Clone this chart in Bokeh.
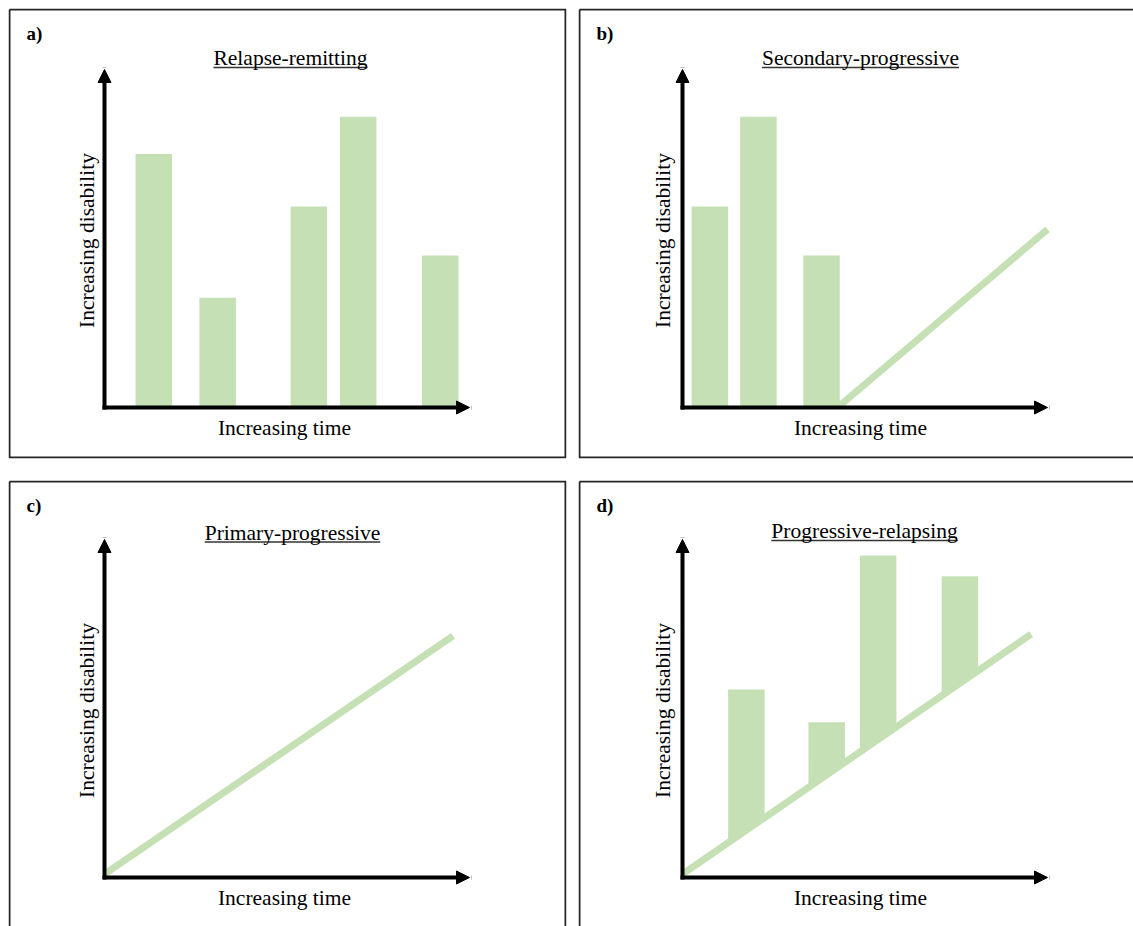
import math
from bokeh.plotting import figure
from bokeh.models import Range1d, Arrow, NormalHead, Label
from bokeh.layouts import column, row
from bokeh.embed import file_html
from bokeh.resources import INLINE

# ---------------- data ----------------
PANEL_LETTERS = ["a)", "b)", "c)", "d)"]
PANEL_TITLES = ["Relapse-remitting", "Secondary-progressive",
                "Primary-progressive", "Progressive-relapsing"]
X_LABEL = "Increasing time"
Y_LABEL = "Increasing disability"
AXIS_MAX = 10.0

# a) relapse-remitting: relapse bars
A_TIME = [1.35, 3.1, 5.6, 6.95, 9.2]
A_DISABILITY = [7.5, 3.25, 5.95, 8.6, 4.5]

# b) secondary-progressive: relapse bars then steady progression
B_TIME = [0.75, 2.08, 3.81]
B_DISABILITY = [5.95, 8.6, 4.5]
B_TREND_TIME = [4.3, 10.0]
B_TREND_DISABILITY = [0.05, 5.27]

# c) primary-progressive: steady progression
C_TREND_TIME = [0.0, 9.55]
C_TREND_DISABILITY = [0.1, 7.15]

# d) progressive-relapsing: progression with relapse bars on top
D_TIME = [1.75, 3.95, 5.36, 7.60]
D_DISABILITY = [5.56, 4.59, 9.53, 8.91]
D_TREND_TIME = [0.0, 9.55]
D_TREND_DISABILITY = [0.1, 7.2]

# ---------------- style ----------------
BAR_COLOR = "#c5e0b4"
BAR_WIDTH = 1.0
TREND_WIDTH = 7
PPX = 36.5   # pixels per time unit
PPY = 33.8   # pixels per disability unit
FONT = "Liberation Serif"
FS = 21.5
BORDER_COLOR = "#262626"

# Times / Liberation Serif advance widths (per 1000 em) for underline length
TW = {"R": 667, "e": 444, "l": 278, "a": 444, "p": 500, "s": 389, "-": 333,
      "r": 333, "m": 778, "i": 278, "t": 278, "n": 500, "g": 500, "S": 556,
      "c": 444, "o": 500, "d": 500, "y": 500, "P": 556, "v": 500, " ": 250}


def text_width_px(s, size):
    return sum(TW.get(ch, 500) for ch in s) / 1000.0 * size


LAYOUT = [
    dict(W=558, H=450, ox=96, oy=399, ml=8, mt=8, rg=12, bg=22, cut_r=False, cut_b=False,
         title_dx=186, title_fy=49.5, xlab_dx=180, ylab_dx=-18),
    dict(W=555, H=450, ox=104, oy=399, ml=0, mt=8, rg=0, bg=22, cut_r=True, cut_b=False,
         title_dx=178, title_fy=49.5, xlab_dx=178, ylab_dx=-20),
    dict(W=558, H=446, ox=96, oy=397, ml=8, mt=0, rg=12, bg=0, cut_r=False, cut_b=True,
         title_dx=188, title_fy=52, xlab_dx=180, ylab_dx=-18),
    dict(W=555, H=446, ox=104, oy=397, ml=0, mt=0, rg=0, bg=0, cut_r=True, cut_b=True,
         title_dx=182, title_fy=50.5, xlab_dx=178, ylab_dx=-20),
]


def make_panel(i):
    L = LAYOUT[i]
    W, H, ox, oy = L["W"], L["H"], L["ox"], L["oy"]

    def X(fx):
        return (fx - ox) / PPX

    def Y(fy):
        return (oy - fy) / PPY

    p = figure(width=W + L["ml"] + L["rg"], height=H + L["mt"] + L["bg"],
               output_backend="svg", toolbar_location=None,
               x_range=Range1d(X(0), X(W)), y_range=Range1d(Y(H), Y(0)),
               min_border=0, min_border_left=L["ml"], min_border_top=L["mt"],
               min_border_right=L["rg"], min_border_bottom=L["bg"])
    p.axis.visible = False
    p.grid.visible = False
    p.outline_line_color = None
    p.background_fill_color = "white"
    p.border_fill_color = "white"

    # panel frame border
    left, top = X(1), Y(1)
    right = X(W + 10) if L["cut_r"] else X(W - 1)
    bottom = Y(H + 10) if L["cut_b"] else Y(H - 1)
    p.line([left, right, right, left, left], [top, top, bottom, bottom, top],
           line_color=BORDER_COLOR, line_width=2, line_join="miter")

    # axes arrows
    for xe, ye in [(AXIS_MAX, 0.0), (0.0, AXIS_MAX)]:
        p.add_layout(Arrow(end=NormalHead(size=13, fill_color="black",
                                          line_color="black", line_width=1),
                           x_start=0.0, y_start=0.0, x_end=xe, y_end=ye,
                           line_color="black", line_width=4, line_cap="square"))

    # texts
    p.add_layout(Label(x=X(18), y=Y(25), text=PANEL_LETTERS[i], text_font=FONT,
                       text_font_size="19px", text_font_style="bold",
                       text_align="left", text_baseline="middle", text_color="black"))
    tx = X(ox + L["title_dx"])
    p.add_layout(Label(x=tx, y=Y(L["title_fy"]), text=PANEL_TITLES[i], text_font=FONT,
                       text_font_size=f"{FS}px", text_align="center",
                       text_baseline="middle", text_color="black"))
    half = text_width_px(PANEL_TITLES[i], FS) / 2.0 / PPX
    uy = Y(L["title_fy"] + 9.5)
    p.segment(x0=[tx - half], y0=[uy], x1=[tx + half], y1=[uy],
              line_color="#333333", line_width=1.3)
    p.add_layout(Label(x=X(ox + L["xlab_dx"]), y=Y(oy + 20), text=X_LABEL,
                       text_font=FONT, text_font_size=f"{FS}px", text_align="center",
                       text_baseline="middle", text_color="black"))
    p.add_layout(Label(x=X(ox + L["ylab_dx"]), y=167 / PPY, text=Y_LABEL,
                       text_font=FONT, text_font_size=f"{FS}px", text_align="center",
                       text_baseline="middle", angle=math.pi / 2, text_color="black"))
    return p


pa = make_panel(0)
pa.vbar(x=A_TIME, top=A_DISABILITY, bottom=0, width=BAR_WIDTH,
        fill_color=BAR_COLOR, line_color=None)

pb = make_panel(1)
pb.vbar(x=B_TIME, top=B_DISABILITY, bottom=0, width=BAR_WIDTH,
        fill_color=BAR_COLOR, line_color=None)
pb.line(B_TREND_TIME, B_TREND_DISABILITY, line_color=BAR_COLOR, line_width=TREND_WIDTH)

pc = make_panel(2)
pc.line(C_TREND_TIME, C_TREND_DISABILITY, line_color=BAR_COLOR, line_width=TREND_WIDTH)

pd = make_panel(3)
slope = (D_TREND_DISABILITY[1] - D_TREND_DISABILITY[0]) / (D_TREND_TIME[1] - D_TREND_TIME[0])


def trend(t):
    return D_TREND_DISABILITY[0] + slope * (t - D_TREND_TIME[0])


xs, ys = [], []
for t, top in zip(D_TIME, D_DISABILITY):
    l, r = t - BAR_WIDTH / 2, t + BAR_WIDTH / 2
    xs.append([l, l, r, r])
    ys.append([trend(l), top, top, trend(r)])
pd.patches(xs, ys, fill_color=BAR_COLOR, line_color=None)
pd.line(D_TREND_TIME, D_TREND_DISABILITY, line_color=BAR_COLOR, line_width=TREND_WIDTH)

layout = column(row(pa, pb), row(pc, pd))
open("out.html", "w").write(file_html(layout, INLINE))
